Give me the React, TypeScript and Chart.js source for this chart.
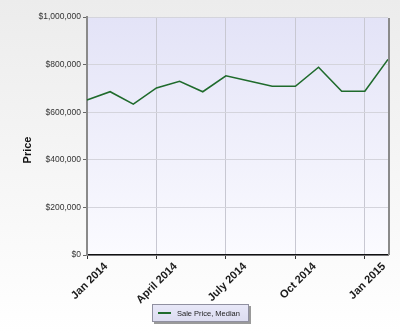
import React, { useEffect, useRef } from "react";
import { Chart, registerables } from "chart.js";

Chart.register(...registerables);

const months = [
  "Jan 2014", "Feb 2014", "Mar 2014", "April 2014", "May 2014", "June 2014", "July 2014",
  "Aug 2014", "Sep 2014", "Oct 2014", "Nov 2014", "Dec 2014", "Jan 2015", "Feb 2015",
];
const shownTicks = ["Jan 2014", "April 2014", "July 2014", "Oct 2014", "Jan 2015"];
const medianPrice = [
  651000, 686000, 634000, 702000, 730000, 686000, 753000,
  731000, 709000, 709000, 789000, 688000, 688000, 822000,
];
const seriesLabel = "Sale Price, Median";
const yTitle = "Price";

const bgPlugin = {
  id: "bgPlugin",
  beforeDraw(chart: any) {
    const { ctx, chartArea } = chart;
    const { left, top, right, bottom } = chartArea;
    const g = ctx.createLinearGradient(0, top, 0, bottom);
    g.addColorStop(0, "#e3e3f7");
    g.addColorStop(1, "#fbfbff");
    ctx.save();
    ctx.fillStyle = g;
    ctx.fillRect(left, top, right - left, bottom - top);
    ctx.restore();
  },
  afterDraw(chart: any) {
    const { ctx, chartArea } = chart;
    const { top, right, bottom } = chartArea;
    ctx.save();
    ctx.strokeStyle = "#8a8a8a";
    ctx.lineWidth = 2;
    ctx.beginPath();
    ctx.moveTo(right + 1, top + 1);
    ctx.lineTo(right + 1, bottom);
    ctx.stroke();
    // y title
    ctx.save();
    ctx.translate(28, 150);
    ctx.rotate(-Math.PI / 2);
    ctx.fillStyle = "#111";
    ctx.font = "bold 11px 'Liberation Sans', Arial, sans-serif";
    ctx.textAlign = "center";
    ctx.textBaseline = "middle";
    ctx.fillText(yTitle, 0, 0);
    ctx.restore();
    // legend box
    const ds = chart.data.datasets[0];
    const bx = 152, by = 304, bw = 97, bh = 18;
    ctx.fillStyle = "#9a9a9a";
    ctx.fillRect(bx + 2, by + 2, bw, bh);
    const lg = ctx.createLinearGradient(0, by, 0, by + bh);
    lg.addColorStop(0, "#e8e8f8");
    lg.addColorStop(1, "#dcdcf0");
    ctx.fillStyle = lg;
    ctx.fillRect(bx, by, bw, bh);
    ctx.strokeStyle = "#9090a0";
    ctx.lineWidth = 1;
    ctx.strokeRect(bx + 0.5, by + 0.5, bw - 1, bh - 1);
    ctx.strokeStyle = ds.borderColor;
    ctx.lineWidth = 2;
    ctx.beginPath();
    ctx.moveTo(bx + 6, by + bh / 2);
    ctx.lineTo(bx + 19, by + bh / 2);
    ctx.stroke();
    ctx.fillStyle = "#222";
    ctx.font = "7.5px 'Liberation Sans', Arial, sans-serif";
    ctx.textBaseline = "middle";
    ctx.fillText(ds.label, bx + 25, by + bh / 2 + 0.5);
    ctx.restore();
  },
};

export default function App() {
  const ref = useRef<HTMLCanvasElement>(null);
  useEffect(() => {
    if (!ref.current) return;
    const chart = new Chart(ref.current, {
      type: "line",
      data: {
        labels: months,
        datasets: [
          {
            label: seriesLabel,
            data: medianPrice,
            borderColor: "#1f6b2c",
            borderWidth: 1.6,
            pointRadius: 0,
            tension: 0,
            fill: false,
          },
        ],
      },
      options: {
        animation: false,
        responsive: false,
        layout: { padding: { left: 0, right: 12, top: 17, bottom: 0 } },
        plugins: { legend: { display: false }, tooltip: { enabled: false } },
        scales: {
          x: {
            type: "category",
            offset: false,
            afterFit(scale: any) {
              scale.height = 78;
            },
            border: { color: "#111", width: 1.5 },
            grid: {
              color: (c: any) =>
                shownTicks.includes(months[c.index]) && c.index > 0 ? "#c8c8d2" : "transparent",
              tickColor: (c: any) => (shownTicks.includes(months[c.index]) ? "#333" : "transparent"),
              tickLength: 4,
            },
            ticks: {
              autoSkip: false,
              maxRotation: 45,
              minRotation: 45,
              padding: 1,
              labelOffset: 19,
              color: "#1a1a1a",
              font: { family: "'Liberation Sans', Arial, sans-serif", size: 11, weight: "bold" },
              callback: (_v: any, i: number) => (shownTicks.includes(months[i]) ? months[i] : ""),
            },
          },
          y: {
            min: 0,
            max: 1000000,
            afterFit(scale: any) {
              scale.width = 87;
            },
            border: { color: "#8a8a8a", width: 2 },
            grid: { color: "#d4d4dc", tickColor: "#666", tickLength: 4 },
            ticks: {
              stepSize: 200000,
              padding: 2,
              color: "#333",
              font: { family: "'Liberation Sans', Arial, sans-serif", size: 8.5 },
              callback: (v: any) => "$" + Number(v).toLocaleString("en-US"),
            },
          },
        },
      },
      plugins: [bgPlugin],
    });
    return () => chart.destroy();
  }, []);
  return (
    <div
      style={{
        position: "absolute",
        left: 0,
        top: 0,
        width: 400,
        height: 333,
        background: "linear-gradient(#ececec, #ffffff)",
      }}
    >
      <canvas ref={ref} width={400} height={333} style={{ display: "block" }} />
    </div>
  );
}
